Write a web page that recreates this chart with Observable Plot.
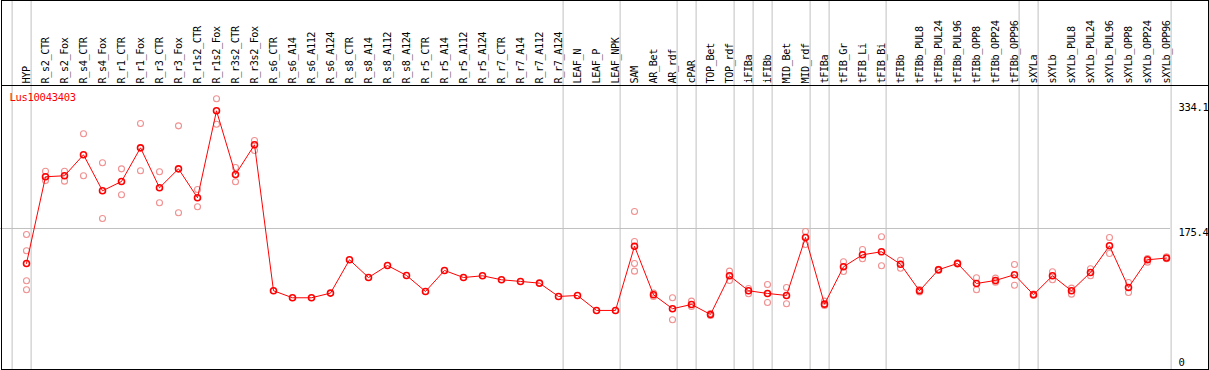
<!DOCTYPE html>
<html><head><meta charset="utf-8">
<script src="https://cdn.jsdelivr.net/npm/d3@7"></script>
<script src="https://cdn.jsdelivr.net/npm/@observablehq/plot@0.6"></script>
<style>
body{margin:0;background:#fff}
#chart svg{display:block}
#chart svg text{letter-spacing:-0.3px}
</style></head><body><div id="chart"></div>
<script>
const title = "Lus10043403";
const categories = ["HYP","R_s2_CTR","R_s2_Fox","R_s4_CTR","R_s4_Fox","R_r1_CTR","R_r1_Fox","R_r3_CTR","R_r3_Fox","R_r1s2_CTR","R_r1s2_Fox","R_r3s2_CTR","R_r3s2_Fox","R_s6_CTR","R_s6_A14","R_s6_A112","R_s6_A124","R_s8_CTR","R_s8_A14","R_s8_A112","R_s8_A124","R_r5_CTR","R_r5_A14","R_r5_A112","R_r5_A124","R_r7_CTR","R_r7_A14","R_r7_A112","R_r7_A124","LEAF_N","LEAF_P","LEAF_NPK","SAM","AR_Bet","AR_rdf","cPAR","TOP_Bet","TOP_rdf","iFIBa","iFIBb","MID_Bet","MID_rdf","tFIBa","tFIB_Gr","tFIB_Li","tFIB_Bi","tFIBb","tFIBb_PUL8","tFIBb_PUL24","tFIBb_PUL96","tFIBb_OPP8","tFIBb_OPP24","tFIBb_OPP96","sXYLa","sXYLb","sXYLb_PUL8","sXYLb_PUL24","sXYLb_PUL96","sXYLb_OPP8","sXYLb_OPP24","sXYLb_OPP96"];
const meanValues = [132.6,238.7,239.9,265.6,221.5,232.9,274.1,225.2,248.4,213.0,319.4,241.5,277.8,99.2,90.6,90.6,96.3,137.1,115.4,130.1,117.9,98.3,124.0,115.4,117.5,112.6,110.6,108.5,92.2,93.4,75.1,75.1,153.7,94.3,77.2,82.4,70.2,117.5,99.2,95.9,93.4,164.4,82.8,128.5,143.2,146.9,131.7,99.2,124.9,132.6,108.1,111.8,118.8,94.3,117.5,99.2,121.6,154.2,103.2,137.1,139.2];
const replicateValues = [
  [168.1,148.1,111.4,100.4],[245.5,234.1],[245.5,233.3],[291.3,239.9],[255.8,187.6],[248.4,216.6],[303.9,246.0],[244.8,206.8],[301.0,194.6],[223.1,202.0],[334.1,303.0],[250.0,232.5],[283.1,270.8],
  [],[],[],[],[],[],[],[],[],[],[],[],[],[],[],[],[],[],[],
  [196.2,159.5,132.6,123.2],[96.3,92.2],[90.6,63.7],[86.5,80.0],[71.4,69.0],[123.2,111.8],[102.0,95.5],[106.9,84.9],[103.2,83.3],[171.7,155.8],[86.5,81.2],[134.6,122.8],[149.7,138.3],[165.2,129.8],[136.6,126.8],
  [100.6,97.6],[125.5,124.0],[133.3,131.8],[115.1,100.4],[114.6,109.7],[131.4,106.0],[95.0,93.6],[122.4,112.6],[102.4,95.0],[126.1,117.5],[164.4,144.8],[109.3,97.1],[134.2,138.7],[140.8,138.3]
];
const boundaryAfter = [-1,0,28,31,34,35,37,38,39,41,42,45,52,53,60];
const yTop = 334.1, yMid = 175.4, yBottom = 0;

const means = categories.map((c,i)=>({i, c, v: meanValues[i]}));
const reps = replicateValues.flatMap((arr,i)=>arr.map(v=>({i, v})));

const plot = Plot.plot({
  width: 1209, height: 370,
  marginTop: 0, marginBottom: 0, marginLeft: 0, marginRight: 0,
  x: {domain: [0, 60], range: [26, 1166], axis: null},
  y: {domain: [yBottom, yTop], range: [371.3, 98.3], axis: null},
  style: {fontFamily: "'DejaVu Sans Mono', monospace", fontSize: "10.5px", background: "white", overflow: "hidden"},
  marks: [
    Plot.ruleX(boundaryAfter, {x: d => d + 0.242, stroke: "#c0c0c0"}),
    Plot.ruleY([yMid], {stroke: "#c0c0c0", insetRight: 39}),
    Plot.frame({stroke: "black", insetTop: 85, insetLeft: 1, insetRight: 1, insetBottom: 1}),
    Plot.frame({stroke: "black", insetLeft: 1, insetRight: 1, insetBottom: 1}),
    Plot.text(categories, {x: (d,i) => i, frameAnchor: "top", dy: 83, rotate: -90, textAnchor: "start", lineAnchor: "middle", fill: "black", fontSize: 10.2}),
    Plot.text([title], {frameAnchor: "top-left", dx: 9, dy: 93, textAnchor: "start", lineAnchor: "top", fill: "red"}),
    Plot.text([yTop], {y: d => d, text: d => String(d), frameAnchor: "right", dx: -31, dy: 5, textAnchor: "start", lineAnchor: "top", fill: "black"}),
    Plot.text([yMid], {y: d => d, text: d => String(d), frameAnchor: "right", dx: -31, dy: 0, textAnchor: "start", lineAnchor: "top", fill: "black"}),
    Plot.text([yBottom], {y: d => d, text: d => String(d), frameAnchor: "right", dx: -31, dy: -13, textAnchor: "start", lineAnchor: "top", fill: "black"}),
    Plot.dot(reps, {x: "i", y: "v", r: 3, stroke: "#f09090", strokeWidth: 1.1, fill: "none"}),
    Plot.line(means, {x: "i", y: "v", stroke: "red", strokeWidth: 1}),
    Plot.dot(means, {x: "i", y: "v", r: 3, stroke: "red", strokeWidth: 1.6, fill: "none"})
  ]
});
// tighten the rotated category labels a little, like the reference's narrow font
const labelGroup = plot.querySelectorAll('g[aria-label="text"]')[0];
if (labelGroup) labelGroup.setAttribute("letter-spacing", "-0.4px");
labelGroup && labelGroup.querySelectorAll("text").forEach(t => t.style.letterSpacing = "-0.4px");
document.getElementById("chart").appendChild(plot);
</script>
</body></html>
